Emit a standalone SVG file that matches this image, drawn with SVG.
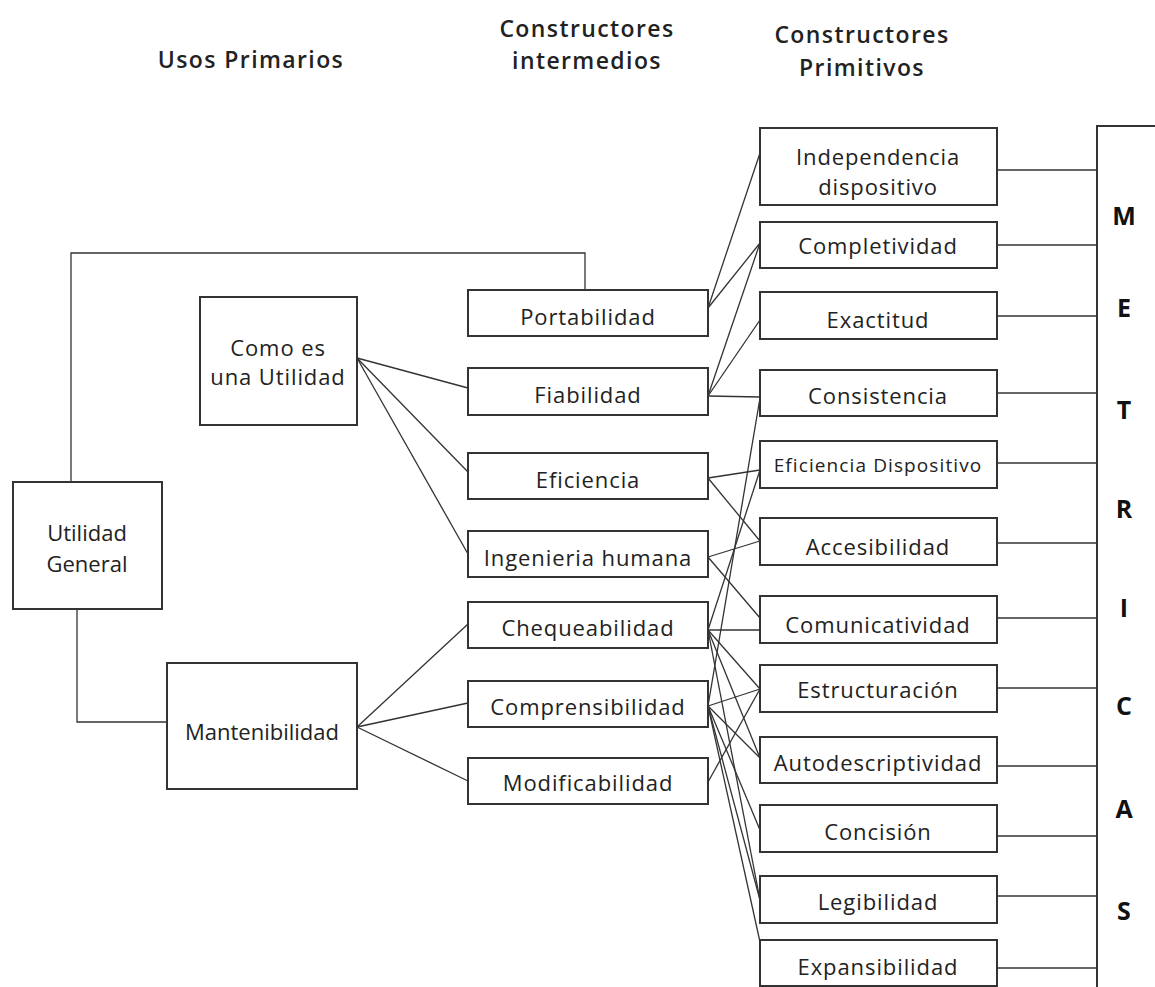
<svg xmlns="http://www.w3.org/2000/svg" width="1155" height="987" viewBox="0 0 1155 987">
<style>
.box{fill:#fff;stroke:#333;stroke-width:2}
.t{font-family:"Open Sans","Noto Sans",sans-serif;font-size:22px;fill:#222;text-anchor:middle}
.m{letter-spacing:0.9px}
.s{font-size:19px;letter-spacing:1.1px}
.h{font-family:"Open Sans","Noto Sans",sans-serif;font-size:23px;font-weight:600;fill:#222;text-anchor:middle;letter-spacing:1.4px}
.L{font-family:"Open Sans","Noto Sans",sans-serif;font-size:25px;font-weight:bold;fill:#111;text-anchor:middle}
.c{fill:none;stroke:#333;stroke-width:1.3}
</style>
<rect width="1155" height="987" fill="#fff"/>
<g id="headers">
<text class="h" x="251" y="68">Usos Primarios</text>
<text class="h" x="587" y="37">Constructores</text>
<text class="h" x="587" y="69">intermedios</text>
<text class="h" x="862" y="43">Constructores</text>
<text class="h" x="862" y="76">Primitivos</text>
</g>
<g id="connectors">
<polyline class="c" points="71,482 71,253 585,253 585,290"/>
<polyline class="c" points="77,609 77,722 167,722"/>
<line class="c" x1="357" y1="358" x2="468" y2="388"/>
<line class="c" x1="357" y1="358" x2="468" y2="472"/>
<line class="c" x1="357" y1="358" x2="468" y2="554"/>
<line class="c" x1="357" y1="727" x2="468" y2="624"/>
<line class="c" x1="357" y1="727" x2="468" y2="703"/>
<line class="c" x1="357" y1="727" x2="468" y2="781"/>
<line class="c" x1="708" y1="308" x2="760" y2="153"/>
<line class="c" x1="708" y1="308" x2="760" y2="243"/>
<line class="c" x1="708" y1="396" x2="760" y2="243"/>
<line class="c" x1="708" y1="396" x2="760" y2="320"/>
<line class="c" x1="708" y1="396" x2="760" y2="397"/>
<line class="c" x1="708" y1="478" x2="760" y2="470"/>
<line class="c" x1="708" y1="478" x2="760" y2="541"/>
<line class="c" x1="708" y1="557" x2="760" y2="541"/>
<line class="c" x1="708" y1="557" x2="760" y2="618"/>
<line class="c" x1="708" y1="630" x2="760" y2="470"/>
<line class="c" x1="708" y1="630" x2="760" y2="630"/>
<line class="c" x1="708" y1="630" x2="760" y2="689"/>
<line class="c" x1="708" y1="630" x2="760" y2="758"/>
<line class="c" x1="708" y1="630" x2="760" y2="900"/>
<line class="c" x1="708" y1="706" x2="760" y2="398"/>
<line class="c" x1="708" y1="706" x2="760" y2="689"/>
<line class="c" x1="708" y1="706" x2="760" y2="758"/>
<line class="c" x1="708" y1="706" x2="760" y2="830"/>
<line class="c" x1="708" y1="706" x2="760" y2="900"/>
<line class="c" x1="708" y1="706" x2="760" y2="942"/>
<line class="c" x1="708" y1="782" x2="760" y2="689"/>
<line class="c" x1="997" y1="170" x2="1097" y2="170"/>
<line class="c" x1="997" y1="245" x2="1097" y2="245"/>
<line class="c" x1="997" y1="316" x2="1097" y2="316"/>
<line class="c" x1="997" y1="393" x2="1097" y2="393"/>
<line class="c" x1="997" y1="463" x2="1097" y2="463"/>
<line class="c" x1="997" y1="543" x2="1097" y2="543"/>
<line class="c" x1="997" y1="618" x2="1097" y2="618"/>
<line class="c" x1="997" y1="688" x2="1097" y2="688"/>
<line class="c" x1="997" y1="766" x2="1097" y2="766"/>
<line class="c" x1="997" y1="836" x2="1097" y2="836"/>
<line class="c" x1="997" y1="896" x2="1097" y2="896"/>
<line class="c" x1="997" y1="968" x2="1097" y2="968"/>
</g>
<g id="utilidad-general"><rect class="box" x="13" y="482" width="149" height="127"/><text class="t" x="87" y="541">Utilidad</text><text class="t" x="87" y="572">General</text></g>
<g id="como-es"><rect class="box" x="200" y="297" width="157" height="128"/><text class="t m" x="278" y="356">Como es</text><text class="t m" x="278" y="385">una Utilidad</text></g>
<g id="mantenibilidad"><rect class="box" x="167" y="663" width="190" height="126"/><text class="t" x="262" y="740">Mantenibilidad</text></g>
<g id="portabilidad"><rect class="box" x="468" y="290" width="240" height="46"/><text class="t m" x="588" y="325">Portabilidad</text></g>
<g id="fiabilidad"><rect class="box" x="468" y="368" width="240" height="47"/><text class="t m" x="588" y="403">Fiabilidad</text></g>
<g id="eficiencia"><rect class="box" x="468" y="453" width="240" height="46"/><text class="t m" x="588" y="488">Eficiencia</text></g>
<g id="ingenieria"><rect class="box" x="468" y="531" width="240" height="46"/><text class="t m" x="588" y="566">Ingenieria humana</text></g>
<g id="chequeabilidad"><rect class="box" x="468" y="602" width="240" height="46"/><text class="t m" x="588" y="636">Chequeabilidad</text></g>
<g id="comprensibilidad"><rect class="box" x="468" y="681" width="240" height="46"/><text class="t m" x="588" y="715">Comprensibilidad</text></g>
<g id="modificabilidad"><rect class="box" x="468" y="758" width="240" height="46"/><text class="t m" x="588" y="791">Modificabilidad</text></g>
<g id="independencia"><rect class="box" x="760" y="128" width="237" height="77"/><text class="t m" x="878" y="165">Independencia</text><text class="t m" x="878" y="195">dispositivo</text></g>
<g id="completividad"><rect class="box" x="760" y="222" width="237" height="46"/><text class="t m" x="878" y="254">Completividad</text></g>
<g id="exactitud"><rect class="box" x="760" y="292" width="237" height="47"/><text class="t m" x="878" y="328">Exactitud</text></g>
<g id="consistencia"><rect class="box" x="760" y="370" width="237" height="46"/><text class="t m" x="878" y="404">Consistencia</text></g>
<g id="eficiencia-dispositivo"><rect class="box" x="760" y="441" width="237" height="47"/><text class="t s" x="878" y="472">Eficiencia Dispositivo</text></g>
<g id="accesibilidad"><rect class="box" x="760" y="518" width="237" height="47"/><text class="t m" x="878" y="555">Accesibilidad</text></g>
<g id="comunicatividad"><rect class="box" x="760" y="596" width="237" height="47"/><text class="t m" x="878" y="633">Comunicatividad</text></g>
<g id="estructuracion"><rect class="box" x="760" y="665" width="237" height="47"/><text class="t m" x="878" y="698">Estructuración</text></g>
<g id="autodescriptividad"><rect class="box" x="760" y="737" width="237" height="46"/><text class="t m" x="878" y="771">Autodescriptividad</text></g>
<g id="concision"><rect class="box" x="760" y="805" width="237" height="47"/><text class="t m" x="878" y="840">Concisión</text></g>
<g id="legibilidad"><rect class="box" x="760" y="876" width="237" height="47"/><text class="t m" x="878" y="910">Legibilidad</text></g>
<g id="expansibilidad"><rect class="box" x="760" y="940" width="237" height="46"/><text class="t m" x="878" y="975">Expansibilidad</text></g>
<g id="metricas"><rect class="box" x="1097" y="126" width="100" height="900"/>
<text class="L" x="1124" y="225">M</text>
<text class="L" x="1124" y="317">E</text>
<text class="L" x="1124" y="419">T</text>
<text class="L" x="1124" y="518">R</text>
<text class="L" x="1124" y="617">I</text>
<text class="L" x="1124" y="715">C</text>
<text class="L" x="1124" y="818">A</text>
<text class="L" x="1124" y="920">S</text>
</g>
</svg>
